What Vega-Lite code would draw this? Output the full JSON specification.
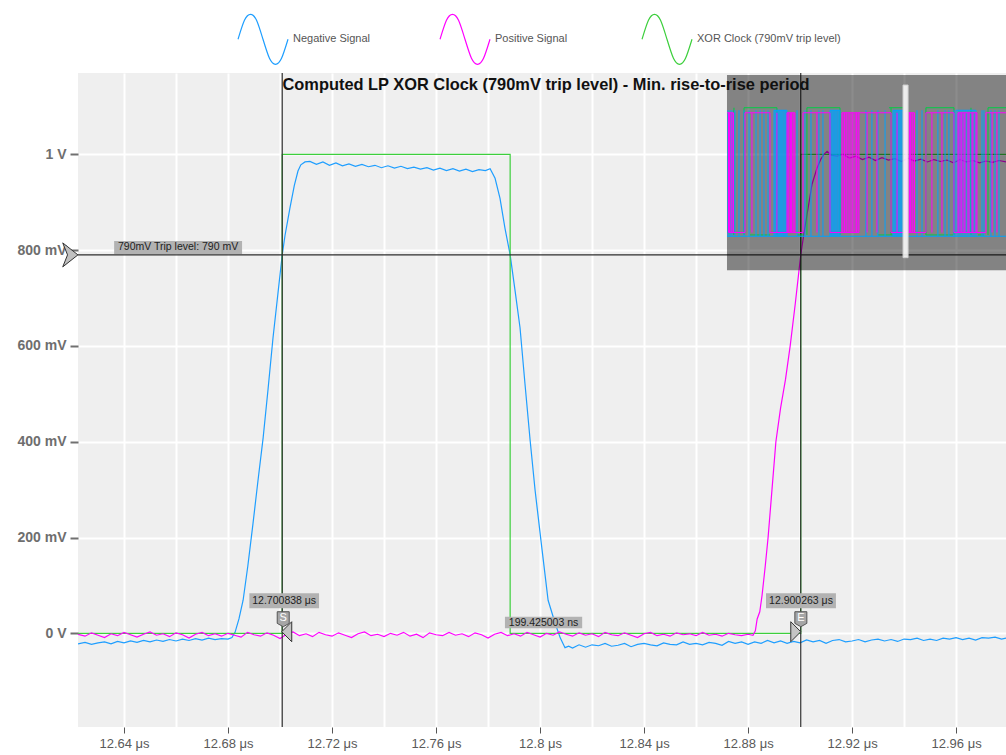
{
  "$schema": "https://vega.github.io/schema/vega-lite/v6.json",
  "width": 928,
  "height": 654,
  "autosize": {"type": "none"},
  "padding": {"left": 78, "top": 73, "right": 0, "bottom": 28},
  "background": "#ffffff",
  "config": {
    "font": "Liberation Sans",
    "view": {"fill": "#efefef", "stroke": null}
  },
  "title": {
    "text": "Computed LP XOR Clock (790mV trip level) - Min. rise-to-rise period",
    "anchor": "middle",
    "frame": "group",
    "offset": 0,
    "baseline": "middle",
    "dy": 88,
    "dx": 4,
    "fontSize": 16.4,
    "fontWeight": "bold",
    "color": "#111111"
  },
  "datasets": {
    "tr": [
      {"s":"N","t":12.6223,"v":-0.022},{"s":"N","t":12.625,"v":-0.019},{"s":"N","t":12.6275,"v":-0.023},{"s":"N","t":12.63,"v":-0.020},{"s":"N","t":12.6325,"v":-0.018},{"s":"N","t":12.635,"v":-0.022},{"s":"N","t":12.6375,"v":-0.017},{"s":"N","t":12.64,"v":-0.020},{"s":"N","t":12.6425,"v":-0.016},{"s":"N","t":12.645,"v":-0.019},{"s":"N","t":12.6475,"v":-0.015},{"s":"N","t":12.65,"v":-0.018},{"s":"N","t":12.6525,"v":-0.014},{"s":"N","t":12.655,"v":-0.017},{"s":"N","t":12.6575,"v":-0.013},{"s":"N","t":12.66,"v":-0.016},{"s":"N","t":12.6625,"v":-0.012},{"s":"N","t":12.665,"v":-0.015},{"s":"N","t":12.6675,"v":-0.011},{"s":"N","t":12.67,"v":-0.014},{"s":"N","t":12.6725,"v":-0.010},{"s":"N","t":12.675,"v":-0.013},{"s":"N","t":12.6775,"v":-0.011},{"s":"N","t":12.68,"v":-0.012},{"s":"N","t":12.6815,"v":-0.009},
      {"s":"N","t":12.6827,"v":0.002},{"s":"N","t":12.6842,"v":0.03},{"s":"N","t":12.6858,"v":0.069},{"s":"N","t":12.6876,"v":0.14},{"s":"N","t":12.6896,"v":0.229},{"s":"N","t":12.6915,"v":0.318},{"s":"N","t":12.6935,"v":0.408},{"s":"N","t":12.6954,"v":0.51},{"s":"N","t":12.6973,"v":0.617},{"s":"N","t":12.699,"v":0.70},{"s":"N","t":12.700838,"v":0.79},{"s":"N","t":12.7019,"v":0.83},{"s":"N","t":12.7038,"v":0.8875},{"s":"N","t":12.7055,"v":0.935},{"s":"N","t":12.7069,"v":0.965},{"s":"N","t":12.708,"v":0.978},{"s":"N","t":12.7096,"v":0.984},
      {"s":"N","t":12.7115,"v":0.985},{"s":"N","t":12.714,"v":0.979},{"s":"N","t":12.7165,"v":0.984},{"s":"N","t":12.719,"v":0.977},{"s":"N","t":12.7215,"v":0.982},{"s":"N","t":12.724,"v":0.976},{"s":"N","t":12.7265,"v":0.980},{"s":"N","t":12.729,"v":0.975},{"s":"N","t":12.7315,"v":0.979},{"s":"N","t":12.734,"v":0.974},{"s":"N","t":12.7365,"v":0.977},{"s":"N","t":12.739,"v":0.972},{"s":"N","t":12.7415,"v":0.976},{"s":"N","t":12.744,"v":0.971},{"s":"N","t":12.7465,"v":0.975},{"s":"N","t":12.749,"v":0.970},{"s":"N","t":12.7515,"v":0.973},{"s":"N","t":12.754,"v":0.969},{"s":"N","t":12.7565,"v":0.972},{"s":"N","t":12.759,"v":0.967},{"s":"N","t":12.7615,"v":0.971},{"s":"N","t":12.764,"v":0.966},{"s":"N","t":12.7665,"v":0.970},{"s":"N","t":12.769,"v":0.965},{"s":"N","t":12.7715,"v":0.969},{"s":"N","t":12.774,"v":0.964},{"s":"N","t":12.7765,"v":0.968},{"s":"N","t":12.779,"v":0.966},{"s":"N","t":12.7808,"v":0.970},
      {"s":"N","t":12.7827,"v":0.95},{"s":"N","t":12.7846,"v":0.908},{"s":"N","t":12.7865,"v":0.846},{"s":"N","t":12.7885,"v":0.79},{"s":"N","t":12.7904,"v":0.715},{"s":"N","t":12.7923,"v":0.638},{"s":"N","t":12.7942,"v":0.521},{"s":"N","t":12.7962,"v":0.402},{"s":"N","t":12.7981,"v":0.298},{"s":"N","t":12.8008,"v":0.173},{"s":"N","t":12.8031,"v":0.069},{"s":"N","t":12.8058,"v":0.021},{"s":"N","t":12.8078,"v":-0.01},{"s":"N","t":12.8096,"v":-0.03},{"s":"N","t":12.811,"v":-0.027},{"s":"N","t":12.8125,"v":-0.031},
      {"s":"N","t":12.815,"v":-0.024},{"s":"N","t":12.8175,"v":-0.029},{"s":"N","t":12.82,"v":-0.024},{"s":"N","t":12.8225,"v":-0.026},{"s":"N","t":12.825,"v":-0.021},{"s":"N","t":12.8275,"v":-0.027},{"s":"N","t":12.83,"v":-0.025},{"s":"N","t":12.8325,"v":-0.021},{"s":"N","t":12.835,"v":-0.028},{"s":"N","t":12.8375,"v":-0.023},{"s":"N","t":12.84,"v":-0.021},{"s":"N","t":12.8425,"v":-0.024},{"s":"N","t":12.845,"v":-0.026},{"s":"N","t":12.8475,"v":-0.020},{"s":"N","t":12.85,"v":-0.023},{"s":"N","t":12.8525,"v":-0.024},{"s":"N","t":12.855,"v":-0.018},{"s":"N","t":12.8575,"v":-0.023},{"s":"N","t":12.86,"v":-0.021},{"s":"N","t":12.8625,"v":-0.024},{"s":"N","t":12.865,"v":-0.019},{"s":"N","t":12.8675,"v":-0.021},{"s":"N","t":12.87,"v":-0.025},{"s":"N","t":12.8725,"v":-0.017},{"s":"N","t":12.875,"v":-0.021},{"s":"N","t":12.8775,"v":-0.018},{"s":"N","t":12.88,"v":-0.023},{"s":"N","t":12.8825,"v":-0.018},{"s":"N","t":12.885,"v":-0.021},{"s":"N","t":12.8875,"v":-0.015},{"s":"N","t":12.89,"v":-0.020},{"s":"N","t":12.8925,"v":-0.016},{"s":"N","t":12.895,"v":-0.021},{"s":"N","t":12.8975,"v":-0.017},{"s":"N","t":12.90,"v":-0.020},{"s":"N","t":12.9025,"v":-0.014},{"s":"N","t":12.905,"v":-0.018},{"s":"N","t":12.9075,"v":-0.015},{"s":"N","t":12.91,"v":-0.021},{"s":"N","t":12.9125,"v":-0.015},{"s":"N","t":12.915,"v":-0.013},{"s":"N","t":12.9175,"v":-0.018},{"s":"N","t":12.92,"v":-0.016},{"s":"N","t":12.9225,"v":-0.013},{"s":"N","t":12.925,"v":-0.018},{"s":"N","t":12.9275,"v":-0.014},{"s":"N","t":12.93,"v":-0.012},{"s":"N","t":12.9325,"v":-0.016},{"s":"N","t":12.935,"v":-0.013},{"s":"N","t":12.9375,"v":-0.017},{"s":"N","t":12.94,"v":-0.012},{"s":"N","t":12.9425,"v":-0.013},{"s":"N","t":12.945,"v":-0.010},{"s":"N","t":12.9475,"v":-0.015},{"s":"N","t":12.95,"v":-0.012},{"s":"N","t":12.9525,"v":-0.015},{"s":"N","t":12.955,"v":-0.010},{"s":"N","t":12.9575,"v":-0.012},{"s":"N","t":12.96,"v":-0.009},{"s":"N","t":12.9625,"v":-0.013},{"s":"N","t":12.965,"v":-0.010},{"s":"N","t":12.9675,"v":-0.014},{"s":"N","t":12.97,"v":-0.009},{"s":"N","t":12.9725,"v":-0.010},{"s":"N","t":12.975,"v":-0.008},{"s":"N","t":12.9775,"v":-0.012},{"s":"N","t":12.9792,"v":-0.010},
      {"s":"P","t":12.6223,"v":-0.002},{"s":"P","t":12.625,"v":-0.006},{"s":"P","t":12.6275,"v":0.001},{"s":"P","t":12.63,"v":-0.004},{"s":"P","t":12.6325,"v":-0.009},{"s":"P","t":12.635,"v":-0.001},{"s":"P","t":12.6375,"v":-0.005},{"s":"P","t":12.64,"v":0.002},{"s":"P","t":12.6425,"v":-0.003},{"s":"P","t":12.645,"v":-0.008},{"s":"P","t":12.6475,"v":-0.002},{"s":"P","t":12.65,"v":0.003},{"s":"P","t":12.6525,"v":-0.004},{"s":"P","t":12.655,"v":-0.001},{"s":"P","t":12.6575,"v":-0.007},{"s":"P","t":12.66,"v":0.001},{"s":"P","t":12.6625,"v":-0.003},{"s":"P","t":12.665,"v":-0.010},{"s":"P","t":12.6675,"v":-0.002},{"s":"P","t":12.67,"v":0.002},{"s":"P","t":12.6725,"v":-0.005},{"s":"P","t":12.675,"v":-0.001},{"s":"P","t":12.6775,"v":-0.006},{"s":"P","t":12.68,"v":0.000},{"s":"P","t":12.6825,"v":-0.004},{"s":"P","t":12.685,"v":-0.008},{"s":"P","t":12.6875,"v":0.002},{"s":"P","t":12.69,"v":-0.003},{"s":"P","t":12.6925,"v":-0.006},{"s":"P","t":12.695,"v":0.001},{"s":"P","t":12.6975,"v":-0.004},{"s":"P","t":12.70,"v":-0.011},{"s":"P","t":12.7025,"v":-0.002},{"s":"P","t":12.705,"v":0.003},{"s":"P","t":12.7075,"v":-0.005},{"s":"P","t":12.71,"v":-0.001},{"s":"P","t":12.7125,"v":-0.007},{"s":"P","t":12.715,"v":0.002},{"s":"P","t":12.7175,"v":-0.003},{"s":"P","t":12.72,"v":-0.006},{"s":"P","t":12.7225,"v":0.001},{"s":"P","t":12.725,"v":-0.004},{"s":"P","t":12.7275,"v":-0.009},{"s":"P","t":12.73,"v":-0.001},{"s":"P","t":12.7325,"v":0.003},{"s":"P","t":12.735,"v":-0.005},{"s":"P","t":12.7375,"v":-0.002},{"s":"P","t":12.74,"v":-0.007},{"s":"P","t":12.7425,"v":0.000},{"s":"P","t":12.745,"v":-0.004},{"s":"P","t":12.7475,"v":0.002},{"s":"P","t":12.75,"v":-0.006},{"s":"P","t":12.7525,"v":-0.002},{"s":"P","t":12.755,"v":-0.009},{"s":"P","t":12.7575,"v":0.001},{"s":"P","t":12.76,"v":-0.003},{"s":"P","t":12.7625,"v":-0.005},{"s":"P","t":12.765,"v":0.002},{"s":"P","t":12.7675,"v":-0.004},{"s":"P","t":12.77,"v":-0.001},{"s":"P","t":12.7725,"v":-0.007},{"s":"P","t":12.775,"v":0.001},{"s":"P","t":12.7775,"v":-0.003},{"s":"P","t":12.78,"v":-0.010},{"s":"P","t":12.7825,"v":-0.002},{"s":"P","t":12.785,"v":0.002},{"s":"P","t":12.7875,"v":-0.005},{"s":"P","t":12.79,"v":-0.001},{"s":"P","t":12.7925,"v":-0.006},{"s":"P","t":12.795,"v":0.002},{"s":"P","t":12.7975,"v":-0.003},{"s":"P","t":12.80,"v":-0.008},{"s":"P","t":12.8025,"v":0.000},{"s":"P","t":12.805,"v":-0.004},{"s":"P","t":12.8075,"v":0.003},{"s":"P","t":12.81,"v":-0.002},{"s":"P","t":12.8125,"v":-0.006},{"s":"P","t":12.815,"v":0.001},{"s":"P","t":12.8175,"v":-0.004},{"s":"P","t":12.82,"v":-0.001},{"s":"P","t":12.8225,"v":-0.007},{"s":"P","t":12.825,"v":0.002},{"s":"P","t":12.8275,"v":-0.003},{"s":"P","t":12.83,"v":-0.005},{"s":"P","t":12.8325,"v":0.001},{"s":"P","t":12.835,"v":-0.004},{"s":"P","t":12.8375,"v":-0.009},{"s":"P","t":12.84,"v":-0.001},{"s":"P","t":12.8425,"v":0.002},{"s":"P","t":12.845,"v":-0.005},{"s":"P","t":12.8475,"v":-0.002},{"s":"P","t":12.85,"v":-0.006},{"s":"P","t":12.8525,"v":0.001},{"s":"P","t":12.855,"v":-0.003},{"s":"P","t":12.8575,"v":-0.001},{"s":"P","t":12.86,"v":-0.005},{"s":"P","t":12.8625,"v":0.002},{"s":"P","t":12.865,"v":-0.004},{"s":"P","t":12.8675,"v":-0.002},{"s":"P","t":12.87,"v":-0.006},{"s":"P","t":12.8725,"v":0.000},{"s":"P","t":12.875,"v":-0.003},{"s":"P","t":12.8775,"v":-0.005},{"s":"P","t":12.88,"v":-0.002},
      {"s":"P","t":12.8819,"v":-0.004},{"s":"P","t":12.8828,"v":0.005},{"s":"P","t":12.8835,"v":0.03},{"s":"P","t":12.8845,"v":0.045},{"s":"P","t":12.8854,"v":0.08},{"s":"P","t":12.8866,"v":0.14},{"s":"P","t":12.8877,"v":0.2},{"s":"P","t":12.8892,"v":0.3},{"s":"P","t":12.8907,"v":0.4},{"s":"P","t":12.8925,"v":0.47},{"s":"P","t":12.8944,"v":0.53},{"s":"P","t":12.8962,"v":0.6},{"s":"P","t":12.8982,"v":0.69},{"s":"P","t":12.900263,"v":0.79},{"s":"P","t":12.9015,"v":0.835},{"s":"P","t":12.9027,"v":0.875},{"s":"P","t":12.9046,"v":0.9375},{"s":"P","t":12.9065,"v":0.971},{"s":"P","t":12.908,"v":0.99},{"s":"P","t":12.9092,"v":1.0},{"s":"P","t":12.9104,"v":1.006},{"s":"P","t":12.912,"v":0.998},{"s":"P","t":12.9142,"v":0.996},
      {"s":"P","t":12.9165,"v":1.0},{"s":"P","t":12.919,"v":0.992},{"s":"P","t":12.9215,"v":0.996},{"s":"P","t":12.924,"v":0.989},{"s":"P","t":12.9265,"v":0.994},{"s":"P","t":12.929,"v":0.987},{"s":"P","t":12.9315,"v":0.993},{"s":"P","t":12.934,"v":0.988},{"s":"P","t":12.9365,"v":0.991},{"s":"P","t":12.939,"v":0.985},{"s":"P","t":12.9415,"v":0.992},{"s":"P","t":12.944,"v":0.986},{"s":"P","t":12.9465,"v":0.990},{"s":"P","t":12.949,"v":0.984},{"s":"P","t":12.9515,"v":0.989},{"s":"P","t":12.954,"v":0.985},{"s":"P","t":12.9565,"v":0.988},{"s":"P","t":12.959,"v":0.982},{"s":"P","t":12.9615,"v":0.989},{"s":"P","t":12.964,"v":0.984},{"s":"P","t":12.9665,"v":0.987},{"s":"P","t":12.969,"v":0.982},{"s":"P","t":12.9715,"v":0.986},{"s":"P","t":12.974,"v":0.983},{"s":"P","t":12.9765,"v":0.987},{"s":"P","t":12.9792,"v":0.984}
    ],
    "xor": [
      {"s":"X","t":12.6223,"v":0},{"s":"X","t":12.700838,"v":1},{"s":"X","t":12.7885,"v":0},{"s":"X","t":12.900263,"v":1},{"s":"X","t":12.9792,"v":1}
    ],
    "cur": [{"t":12.700838},{"t":12.900263}],
    "lb": [
      {"txt":"790mV Trip level: 790 mV","t0":12.6362,"t1":12.6854,"v0":0.792,"v1":0.819,"tc":12.6608,"vc":0.8055},
      {"txt":"12.700838 μs","t0":12.6882,"t1":12.715,"v0":0.0522,"v1":0.0835,"tc":12.7016,"vc":0.0679},
      {"txt":"12.900263 μs","t0":12.8869,"t1":12.9138,"v0":0.0522,"v1":0.0835,"tc":12.90035,"vc":0.0679},
      {"txt":"199.425003 ns","t0":12.7865,"t1":12.8162,"v0":0.0104,"v1":0.0347,"tc":12.80135,"vc":0.0225}
    ],
    "tags": [{"tag":"S","t":12.70123,"v":0.0294},{"tag":"E","t":12.9003,"v":0.0294}],
    "ov": [
      {"k":"X","t0":1.22,"t1":3.58,"u0":1.01,"u1":1.01},{"k":"X","t0":5.73,"t1":8.10,"u0":1.01,"u1":1.01},{"k":"X","t0":11.61,"t1":12.62,"u0":1.01,"u1":1.01},{"k":"X","t0":14.26,"t1":16.27,"u0":1.01,"u1":1.01},{"k":"X","t0":18.71,"t1":20,"u0":1.01,"u1":1.01},
      {"k":"X","t0":1.65,"t1":3.08,"u0":0,"u1":0},{"k":"X","t0":5.02,"t1":5.52,"u0":0,"u1":0},{"k":"X","t0":10.82,"t1":11.90,"u0":0,"u1":0},{"k":"X","t0":14.26,"t1":16.20,"u0":0,"u1":0},{"k":"X","t0":17.99,"t1":18.42,"u0":0,"u1":0},
      {"k":"X","t0":0.50,"t1":0.50,"u0":0,"u1":1.01},{"k":"X","t0":1.22,"t1":1.22,"u0":0,"u1":1.01},{"k":"X","t0":3.58,"t1":3.58,"u0":0,"u1":1.01},{"k":"X","t0":5.73,"t1":5.73,"u0":0,"u1":1.01},{"k":"X","t0":8.10,"t1":8.10,"u0":0,"u1":1.01},{"k":"X","t0":11.76,"t1":11.76,"u0":0,"u1":1.01},{"k":"X","t0":14.26,"t1":14.26,"u0":0,"u1":1.01},{"k":"X","t0":16.27,"t1":16.27,"u0":0,"u1":1.01},{"k":"X","t0":17.49,"t1":17.49,"u0":0,"u1":1.01},{"k":"X","t0":18.71,"t1":18.71,"u0":0,"u1":1.01},
      {"k":"N","t0":0,"t1":20,"u0":-0.01,"u1":-0.01},
      {"k":"N","t0":3.37,"t1":4.30,"u0":0.99,"u1":0.99},{"k":"N","t0":7.38,"t1":8.10,"u0":0.99,"u1":0.99},{"k":"N","t0":11.90,"t1":12.62,"u0":0.99,"u1":0.99},{"k":"N","t0":16.41,"t1":17.85,"u0":0.99,"u1":0.99},
      {"k":"N","t0":0.07,"t1":0.07,"u0":-0.01,"u1":0.99},{"k":"N","t0":0.22,"t1":0.22,"u0":-0.01,"u1":0.99},{"k":"N","t0":0.36,"t1":0.36,"u0":-0.01,"u1":0.99},{"k":"N","t0":0.57,"t1":0.57,"u0":-0.01,"u1":0.99},{"k":"N","t0":0.86,"t1":0.86,"u0":-0.01,"u1":0.99},{"k":"N","t0":1.22,"t1":1.22,"u0":-0.01,"u1":0.99},{"k":"N","t0":1.58,"t1":1.58,"u0":-0.01,"u1":0.99},{"k":"N","t0":2.08,"t1":2.08,"u0":-0.01,"u1":0.99},{"k":"N","t0":2.37,"t1":2.37,"u0":-0.01,"u1":0.99},{"k":"N","t0":2.65,"t1":2.65,"u0":-0.01,"u1":0.99},{"k":"N","t0":2.94,"t1":2.94,"u0":-0.01,"u1":0.99},
      {"k":"N","t0":3.37,"t1":3.37,"u0":-0.01,"u1":0.99},{"k":"N","t0":3.44,"t1":3.44,"u0":-0.01,"u1":0.99},{"k":"N","t0":3.51,"t1":3.51,"u0":-0.01,"u1":0.99},{"k":"N","t0":3.58,"t1":3.58,"u0":-0.01,"u1":0.99},{"k":"N","t0":3.66,"t1":3.66,"u0":-0.01,"u1":0.99},{"k":"N","t0":3.73,"t1":3.73,"u0":-0.01,"u1":0.99},{"k":"N","t0":3.80,"t1":3.80,"u0":-0.01,"u1":0.99},{"k":"N","t0":3.87,"t1":3.87,"u0":-0.01,"u1":0.99},{"k":"N","t0":3.94,"t1":3.94,"u0":-0.01,"u1":0.99},{"k":"N","t0":4.01,"t1":4.01,"u0":-0.01,"u1":0.99},{"k":"N","t0":4.09,"t1":4.09,"u0":-0.01,"u1":0.99},{"k":"N","t0":4.16,"t1":4.16,"u0":-0.01,"u1":0.99},{"k":"N","t0":4.23,"t1":4.23,"u0":-0.01,"u1":0.99},{"k":"N","t0":4.30,"t1":4.30,"u0":-0.01,"u1":0.99},
      {"k":"N","t0":5.02,"t1":5.02,"u0":-0.01,"u1":0.99},{"k":"N","t0":5.59,"t1":5.59,"u0":-0.01,"u1":0.99},{"k":"N","t0":6.02,"t1":6.02,"u0":-0.01,"u1":0.99},{"k":"N","t0":6.59,"t1":6.59,"u0":-0.01,"u1":0.99},{"k":"N","t0":6.88,"t1":6.88,"u0":-0.01,"u1":0.99},
      {"k":"N","t0":7.38,"t1":7.38,"u0":-0.01,"u1":0.99},{"k":"N","t0":7.45,"t1":7.45,"u0":-0.01,"u1":0.99},{"k":"N","t0":7.53,"t1":7.53,"u0":-0.01,"u1":0.99},{"k":"N","t0":7.60,"t1":7.60,"u0":-0.01,"u1":0.99},{"k":"N","t0":7.67,"t1":7.67,"u0":-0.01,"u1":0.99},{"k":"N","t0":7.74,"t1":7.74,"u0":-0.01,"u1":0.99},{"k":"N","t0":7.81,"t1":7.81,"u0":-0.01,"u1":0.99},{"k":"N","t0":7.88,"t1":7.88,"u0":-0.01,"u1":0.99},{"k":"N","t0":7.96,"t1":7.96,"u0":-0.01,"u1":0.99},{"k":"N","t0":8.03,"t1":8.03,"u0":-0.01,"u1":0.99},{"k":"N","t0":8.10,"t1":8.10,"u0":-0.01,"u1":0.99},
      {"k":"N","t0":9.96,"t1":9.96,"u0":-0.01,"u1":0.99},{"k":"N","t0":10.39,"t1":10.39,"u0":-0.01,"u1":0.99},{"k":"N","t0":10.82,"t1":10.82,"u0":-0.01,"u1":0.99},{"k":"N","t0":11.33,"t1":11.33,"u0":-0.01,"u1":0.99},
      {"k":"N","t0":11.90,"t1":11.90,"u0":-0.01,"u1":0.99},{"k":"N","t0":11.97,"t1":11.97,"u0":-0.01,"u1":0.99},{"k":"N","t0":12.04,"t1":12.04,"u0":-0.01,"u1":0.99},{"k":"N","t0":12.11,"t1":12.11,"u0":-0.01,"u1":0.99},{"k":"N","t0":12.19,"t1":12.19,"u0":-0.01,"u1":0.99},{"k":"N","t0":12.26,"t1":12.26,"u0":-0.01,"u1":0.99},{"k":"N","t0":12.33,"t1":12.33,"u0":-0.01,"u1":0.99},{"k":"N","t0":12.40,"t1":12.40,"u0":-0.01,"u1":0.99},{"k":"N","t0":12.47,"t1":12.47,"u0":-0.01,"u1":0.99},{"k":"N","t0":12.54,"t1":12.54,"u0":-0.01,"u1":0.99},{"k":"N","t0":12.62,"t1":12.62,"u0":-0.01,"u1":0.99},
      {"k":"N","t0":13.62,"t1":13.62,"u0":-0.01,"u1":0.99},{"k":"N","t0":13.98,"t1":13.98,"u0":-0.01,"u1":0.99},{"k":"N","t0":15.12,"t1":15.12,"u0":-0.01,"u1":0.99},{"k":"N","t0":15.63,"t1":15.63,"u0":-0.01,"u1":0.99},{"k":"N","t0":15.91,"t1":15.91,"u0":-0.01,"u1":0.99},{"k":"N","t0":16.27,"t1":16.27,"u0":-0.01,"u1":0.99},
      {"k":"N","t0":16.41,"t1":16.41,"u0":-0.01,"u1":0.99},{"k":"N","t0":16.56,"t1":16.56,"u0":-0.01,"u1":0.99},{"k":"N","t0":16.70,"t1":16.70,"u0":-0.01,"u1":0.99},{"k":"N","t0":16.84,"t1":16.84,"u0":-0.01,"u1":0.99},{"k":"N","t0":16.99,"t1":16.99,"u0":-0.01,"u1":0.99},{"k":"N","t0":17.13,"t1":17.13,"u0":-0.01,"u1":0.99},{"k":"N","t0":17.27,"t1":17.27,"u0":-0.01,"u1":0.99},{"k":"N","t0":17.42,"t1":17.42,"u0":-0.01,"u1":0.99},{"k":"N","t0":17.56,"t1":17.56,"u0":-0.01,"u1":0.99},{"k":"N","t0":17.71,"t1":17.71,"u0":-0.01,"u1":0.99},{"k":"N","t0":17.85,"t1":17.85,"u0":-0.01,"u1":0.99},
      {"k":"N","t0":18.28,"t1":18.28,"u0":-0.01,"u1":0.99},{"k":"N","t0":18.42,"t1":18.42,"u0":-0.01,"u1":0.99},{"k":"N","t0":18.92,"t1":18.92,"u0":-0.01,"u1":0.99},{"k":"N","t0":19.21,"t1":19.21,"u0":-0.01,"u1":0.99},{"k":"N","t0":19.50,"t1":19.50,"u0":-0.01,"u1":0.99},
      {"k":"P","t0":0,"t1":0.47,"u0":0.97,"u1":0.97},{"k":"P","t0":1.29,"t1":3.08,"u0":0.97,"u1":0.97},{"k":"P","t0":4.30,"t1":4.87,"u0":0.97,"u1":0.97},{"k":"P","t0":5.45,"t1":7.38,"u0":0.97,"u1":0.97},{"k":"P","t0":8.24,"t1":11.76,"u0":0.97,"u1":0.97},{"k":"P","t0":12.83,"t1":13.44,"u0":0.97,"u1":0.97},{"k":"P","t0":14.26,"t1":16.27,"u0":0.97,"u1":0.97},{"k":"P","t0":16.56,"t1":17.92,"u0":0.97,"u1":0.97},{"k":"P","t0":18.56,"t1":20,"u0":0.97,"u1":0.97},
      {"k":"P","t0":0.11,"t1":1.29,"u0":0.02,"u1":0.02},{"k":"P","t0":3.08,"t1":5.45,"u0":0.02,"u1":0.02},{"k":"P","t0":7.38,"t1":9.46,"u0":0.02,"u1":0.02},{"k":"P","t0":11.76,"t1":14.26,"u0":0.02,"u1":0.02},{"k":"P","t0":16.27,"t1":18.56,"u0":0.02,"u1":0.02},
      {"k":"P","t0":0.11,"t1":0.11,"u0":0.02,"u1":0.97},{"k":"P","t0":0.18,"t1":0.18,"u0":0.02,"u1":0.97},{"k":"P","t0":0.29,"t1":0.29,"u0":0.02,"u1":0.97},{"k":"P","t0":0.36,"t1":0.36,"u0":0.02,"u1":0.97},{"k":"P","t0":0.47,"t1":0.47,"u0":0.02,"u1":0.97},{"k":"P","t0":1.29,"t1":1.29,"u0":0.02,"u1":0.97},{"k":"P","t0":1.79,"t1":1.79,"u0":0.02,"u1":0.97},{"k":"P","t0":3.08,"t1":3.08,"u0":0.02,"u1":0.97},{"k":"P","t0":3.58,"t1":3.58,"u0":0.02,"u1":0.97},
      {"k":"P","t0":4.30,"t1":4.30,"u0":0.02,"u1":0.97},{"k":"P","t0":4.37,"t1":4.37,"u0":0.02,"u1":0.97},{"k":"P","t0":4.44,"t1":4.44,"u0":0.02,"u1":0.97},{"k":"P","t0":4.55,"t1":4.55,"u0":0.02,"u1":0.97},{"k":"P","t0":4.62,"t1":4.62,"u0":0.02,"u1":0.97},{"k":"P","t0":4.73,"t1":4.73,"u0":0.02,"u1":0.97},{"k":"P","t0":4.80,"t1":4.80,"u0":0.02,"u1":0.97},{"k":"P","t0":4.87,"t1":4.87,"u0":0.02,"u1":0.97},{"k":"P","t0":5.45,"t1":5.45,"u0":0.02,"u1":0.97},{"k":"P","t0":6.45,"t1":6.45,"u0":0.02,"u1":0.97},{"k":"P","t0":7.38,"t1":7.38,"u0":0.02,"u1":0.97},
      {"k":"P","t0":8.24,"t1":8.24,"u0":0.02,"u1":0.97},{"k":"P","t0":8.31,"t1":8.31,"u0":0.02,"u1":0.97},{"k":"P","t0":8.42,"t1":8.42,"u0":0.02,"u1":0.97},{"k":"P","t0":8.53,"t1":8.53,"u0":0.02,"u1":0.97},{"k":"P","t0":8.60,"t1":8.60,"u0":0.02,"u1":0.97},{"k":"P","t0":8.74,"t1":8.74,"u0":0.02,"u1":0.97},{"k":"P","t0":8.82,"t1":8.82,"u0":0.02,"u1":0.97},{"k":"P","t0":8.96,"t1":8.96,"u0":0.02,"u1":0.97},{"k":"P","t0":9.03,"t1":9.03,"u0":0.02,"u1":0.97},{"k":"P","t0":9.18,"t1":9.18,"u0":0.02,"u1":0.97},{"k":"P","t0":9.28,"t1":9.28,"u0":0.02,"u1":0.97},{"k":"P","t0":9.39,"t1":9.39,"u0":0.02,"u1":0.97},{"k":"P","t0":9.46,"t1":9.46,"u0":0.02,"u1":0.97},{"k":"P","t0":10.04,"t1":10.04,"u0":0.02,"u1":0.97},{"k":"P","t0":10.75,"t1":10.75,"u0":0.02,"u1":0.97},{"k":"P","t0":11.76,"t1":11.76,"u0":0.02,"u1":0.97},{"k":"P","t0":12.19,"t1":12.19,"u0":0.02,"u1":0.97},
      {"k":"P","t0":12.83,"t1":12.83,"u0":0.02,"u1":0.97},{"k":"P","t0":12.90,"t1":12.90,"u0":0.02,"u1":0.97},{"k":"P","t0":12.97,"t1":12.97,"u0":0.02,"u1":0.97},{"k":"P","t0":13.08,"t1":13.08,"u0":0.02,"u1":0.97},{"k":"P","t0":13.15,"t1":13.15,"u0":0.02,"u1":0.97},{"k":"P","t0":13.26,"t1":13.26,"u0":0.02,"u1":0.97},{"k":"P","t0":13.33,"t1":13.33,"u0":0.02,"u1":0.97},{"k":"P","t0":13.44,"t1":13.44,"u0":0.02,"u1":0.97},{"k":"P","t0":14.26,"t1":14.26,"u0":0.02,"u1":0.97},{"k":"P","t0":14.69,"t1":14.69,"u0":0.02,"u1":0.97},{"k":"P","t0":15.41,"t1":15.41,"u0":0.02,"u1":0.97},{"k":"P","t0":16.27,"t1":16.27,"u0":0.02,"u1":0.97},
      {"k":"P","t0":16.56,"t1":16.56,"u0":0.02,"u1":0.97},{"k":"P","t0":16.63,"t1":16.63,"u0":0.02,"u1":0.97},{"k":"P","t0":16.77,"t1":16.77,"u0":0.02,"u1":0.97},{"k":"P","t0":16.84,"t1":16.84,"u0":0.02,"u1":0.97},{"k":"P","t0":16.99,"t1":16.99,"u0":0.02,"u1":0.97},{"k":"P","t0":17.06,"t1":17.06,"u0":0.02,"u1":0.97},{"k":"P","t0":17.27,"t1":17.27,"u0":0.02,"u1":0.97},{"k":"P","t0":17.35,"t1":17.35,"u0":0.02,"u1":0.97},{"k":"P","t0":17.56,"t1":17.56,"u0":0.02,"u1":0.97},{"k":"P","t0":17.63,"t1":17.63,"u0":0.02,"u1":0.97},{"k":"P","t0":17.85,"t1":17.85,"u0":0.02,"u1":0.97},{"k":"P","t0":17.92,"t1":17.92,"u0":0.02,"u1":0.97},{"k":"P","t0":18.56,"t1":18.56,"u0":0.02,"u1":0.97},{"k":"P","t0":19.00,"t1":19.00,"u0":0.02,"u1":0.97},{"k":"P","t0":19.35,"t1":19.35,"u0":0.02,"u1":0.97}
    ]
  },
  "layer": [
    {
      "data": {"name": "tr"},
      "transform": [{"filter": "datum.s == 'N'"}],
      "mark": {"type": "line", "strokeWidth": 1.2, "clip": true},
      "encoding": {
        "x": {
          "field": "t", "type": "quantitative", "title": null,
          "scale": {"domain": [12.6223, 12.9792], "nice": false, "zero": false},
          "axis": {
            "values": [12.64, 12.66, 12.68, 12.70, 12.72, 12.74, 12.76, 12.78, 12.80, 12.82, 12.84, 12.86, 12.88, 12.90, 12.92, 12.94, 12.96],
            "labelExpr": "round(datum.value * 100) % 4 == 0 ? format(datum.value, '.2~f') + ' μs' : ''",
            "grid": true, "gridColor": "#ffffff", "gridWidth": 2,
            "domain": false,
            "tickSize": 6, "tickWidth": 1, "tickColor": "#555555",
            "tickOpacity": {"condition": {"test": "round(datum.value * 100) % 4 == 0", "value": 1}, "value": 0},
            "labelFontSize": 13, "labelColor": "#5a5a5a", "labelPadding": 4,
            "labelOverlap": false, "labelFlush": false, "labelBound": false
          }
        },
        "y": {
          "field": "v", "type": "quantitative", "title": null,
          "scale": {"domain": [-0.1956, 1.1697], "nice": false, "zero": false},
          "axis": {
            "values": [0, 0.2, 0.4, 0.6, 0.8, 1],
            "labelExpr": "datum.value == 0 ? '0 V' : (datum.value > 0.999 ? '1 V' : format(datum.value * 1000, '.0f') + ' mV')",
            "grid": true, "gridColor": "#ffffff", "gridWidth": 2,
            "domain": false,
            "tickSize": 8, "tickWidth": 2, "tickColor": "#707070",
            "labelFontSize": 14, "labelFontWeight": "bold", "labelColor": "#6e6e6e", "labelPadding": 4
          }
        },
        "color": {
          "field": "s", "type": "nominal",
          "scale": {"domain": ["N", "P", "X"], "range": ["#1e9eff", "#ff00ff", "#3ccf3c"]},
          "legend": {
            "orient": "none", "legendX": 159, "legendY": -60,
            "direction": "horizontal", "columns": 3, "gridAlign": "all",
            "title": null, "padding": 0,
            "symbolType": "M-1,0C-0.8,-0.65,-0.7,-1,-0.5,-1C-0.3,-1,-0.2,-0.65,0,0C0.2,0.65,0.3,1,0.5,1C0.7,1,0.8,0.65,1,0",
            "symbolSize": 2500, "symbolStrokeWidth": 1.2, "symbolFillColor": "transparent",
            "labelFontSize": 11, "labelColor": "#555555", "labelOffset": 4, "columnPadding": 0,
            "labelExpr": "datum.label == 'N' ? 'Negative Signal' : (datum.label == 'P' ? 'Positive Signal' : 'XOR Clock (790mV trip level)')"
          }
        }
      }
    },
    {
      "data": {"name": "xor"},
      "mark": {"type": "line", "strokeWidth": 1.2, "interpolate": "step-after", "clip": true},
      "encoding": {
        "x": {"field": "t", "type": "quantitative", "title": null, "axis": null, "scale": {"domain": [12.6223, 12.9792], "nice": false, "zero": false}},
        "y": {"field": "v", "type": "quantitative", "title": null, "axis": null, "scale": {"domain": [-0.1956, 1.1697], "nice": false, "zero": false}},
        "color": {"field": "s", "type": "nominal", "legend": null}
      }
    },
    {
      "data": {"name": "tr"},
      "transform": [{"filter": "datum.s == 'P'"}],
      "mark": {"type": "line", "strokeWidth": 1.2, "clip": true},
      "encoding": {
        "x": {"field": "t", "type": "quantitative", "title": null, "axis": null, "scale": {"domain": [12.6223, 12.9792], "nice": false, "zero": false}},
        "y": {"field": "v", "type": "quantitative", "title": null, "axis": null, "scale": {"domain": [-0.1956, 1.1697], "nice": false, "zero": false}},
        "color": {"field": "s", "type": "nominal", "legend": null}
      }
    },
    {
      "data": {"name": "cur"},
      "mark": {"type": "rule", "color": "#2e2e2e", "strokeWidth": 1.2},
      "encoding": {
        "x": {"field": "t", "type": "quantitative", "title": null, "axis": null, "scale": {"domain": [12.6223, 12.9792], "nice": false, "zero": false}}
      }
    },
    {
      "data": {"values": [{"v": 0.79}]},
      "mark": {"type": "rule", "color": "#2e2e2e", "strokeWidth": 1.2},
      "encoding": {
        "y": {"field": "v", "type": "quantitative", "title": null, "axis": null, "scale": {"domain": [-0.1956, 1.1697], "nice": false, "zero": false}}
      }
    },
    {
      "data": {"name": "lb"},
      "mark": {"type": "rect", "fill": "#b2b2b2"},
      "encoding": {
        "x": {"field": "t0", "type": "quantitative", "title": null, "axis": null, "scale": {"domain": [12.6223, 12.9792], "nice": false, "zero": false}},
        "x2": {"field": "t1"},
        "y": {"field": "v0", "type": "quantitative", "title": null, "axis": null, "scale": {"domain": [-0.1956, 1.1697], "nice": false, "zero": false}},
        "y2": {"field": "v1"}
      }
    },
    {
      "data": {"name": "lb"},
      "mark": {"type": "text", "fontSize": 10.5, "color": "#1e1e1e", "align": "center", "baseline": "middle"},
      "encoding": {
        "x": {"field": "tc", "type": "quantitative", "title": null, "axis": null, "scale": {"domain": [12.6223, 12.9792], "nice": false, "zero": false}},
        "y": {"field": "vc", "type": "quantitative", "title": null, "axis": null, "scale": {"domain": [-0.1956, 1.1697], "nice": false, "zero": false}},
        "text": {"field": "txt"}
      }
    },
    {
      "data": {"name": "tags"},
      "mark": {"type": "point", "filled": true, "shape": "M-0.8,-1L0.8,-1L0.8,0.55L0,1L-0.8,0.55Z", "size": 225, "fill": "#a6a6a6", "stroke": "#555555", "strokeWidth": 1, "opacity": 1},
      "encoding": {
        "x": {"field": "t", "type": "quantitative", "title": null, "axis": null, "scale": {"domain": [12.6223, 12.9792], "nice": false, "zero": false}},
        "y": {"field": "v", "type": "quantitative", "title": null, "axis": null, "scale": {"domain": [-0.1956, 1.1697], "nice": false, "zero": false}}
      }
    },
    {
      "data": {"name": "tags"},
      "mark": {"type": "text", "fontSize": 11, "color": "#ffffff", "align": "center", "baseline": "middle", "dy": -1},
      "encoding": {
        "x": {"field": "t", "type": "quantitative", "title": null, "axis": null, "scale": {"domain": [12.6223, 12.9792], "nice": false, "zero": false}},
        "y": {"field": "v", "type": "quantitative", "title": null, "axis": null, "scale": {"domain": [-0.1956, 1.1697], "nice": false, "zero": false}},
        "text": {"field": "tag"}
      }
    },
    {
      "data": {"values": [{"t": 12.70258, "v": 0.0033}]},
      "mark": {"type": "point", "filled": true, "shape": "M-1,0L1,-2L1,2Z", "size": 100, "fill": "#c4c4c4", "stroke": "#333333", "strokeWidth": 1, "opacity": 1},
      "encoding": {
        "x": {"field": "t", "type": "quantitative", "title": null, "axis": null, "scale": {"domain": [12.6223, 12.9792], "nice": false, "zero": false}},
        "y": {"field": "v", "type": "quantitative", "title": null, "axis": null, "scale": {"domain": [-0.1956, 1.1697], "nice": false, "zero": false}}
      }
    },
    {
      "data": {"values": [{"t": 12.89835, "v": 0.0033}]},
      "mark": {"type": "point", "filled": true, "shape": "M1,0L-1,-2L-1,2Z", "size": 100, "fill": "#c4c4c4", "stroke": "#333333", "strokeWidth": 1, "opacity": 1},
      "encoding": {
        "x": {"field": "t", "type": "quantitative", "title": null, "axis": null, "scale": {"domain": [12.6223, 12.9792], "nice": false, "zero": false}},
        "y": {"field": "v", "type": "quantitative", "title": null, "axis": null, "scale": {"domain": [-0.1956, 1.1697], "nice": false, "zero": false}}
      }
    },
    {
      "data": {"values": [{"t": 12.6192, "v": 0.79}]},
      "mark": {"type": "point", "filled": true, "shape": "M1,0L-0.9,-1.5L-0.3,0L-0.9,1.5Z", "size": 256, "fill": "#c0c0c0", "stroke": "#333333", "strokeWidth": 1, "opacity": 1},
      "encoding": {
        "x": {"field": "t", "type": "quantitative", "title": null, "axis": null, "scale": {"domain": [12.6223, 12.9792], "nice": false, "zero": false}},
        "y": {"field": "v", "type": "quantitative", "title": null, "axis": null, "scale": {"domain": [-0.1956, 1.1697], "nice": false, "zero": false}}
      }
    },
    {
      "data": {"values": [{"t0": 0, "t1": 20, "u0": -0.28, "u1": 1.27}]},
      "mark": {"type": "rect", "fill": "#000000", "fillOpacity": 0.45},
      "encoding": {
        "x": {"field": "t0", "type": "quantitative", "title": null, "axis": null, "scale": {"domain": [-46.52, 20], "nice": false, "zero": false}},
        "x2": {"field": "t1"},
        "y": {"field": "u0", "type": "quantitative", "title": null, "axis": null, "scale": {"domain": [-3.905, 1.2857], "nice": false, "zero": false}},
        "y2": {"field": "u1"}
      }
    },
    {
      "data": {"name": "ov"},
      "mark": {"type": "rule", "strokeWidth": 1},
      "encoding": {
        "x": {"field": "t0", "type": "quantitative", "title": null, "axis": null, "scale": {"domain": [-46.52, 20], "nice": false, "zero": false}},
        "x2": {"field": "t1"},
        "y": {"field": "u0", "type": "quantitative", "title": null, "axis": null, "scale": {"domain": [-3.905, 1.2857], "nice": false, "zero": false}},
        "y2": {"field": "u1"},
        "stroke": {"field": "k", "type": "nominal", "legend": null, "scale": {"domain": ["N", "P", "X"], "range": ["#00a2ff", "#ff00ff", "#00cc44"]}}
      }
    },
    {
      "data": {"values": [{"t0": 12.62, "t1": 12.98, "u0": -0.18, "u1": 1.19}]},
      "mark": {"type": "rect", "fill": "#ffffff", "fillOpacity": 0.85, "stroke": "#d0d0d0", "strokeWidth": 1},
      "encoding": {
        "x": {"field": "t0", "type": "quantitative", "title": null, "axis": null, "scale": {"domain": [-46.52, 20], "nice": false, "zero": false}},
        "x2": {"field": "t1"},
        "y": {"field": "u0", "type": "quantitative", "title": null, "axis": null, "scale": {"domain": [-3.905, 1.2857], "nice": false, "zero": false}},
        "y2": {"field": "u1"}
      }
    }
  ],
  "resolve": {"scale": {"x": "independent", "y": "independent"}}
}
